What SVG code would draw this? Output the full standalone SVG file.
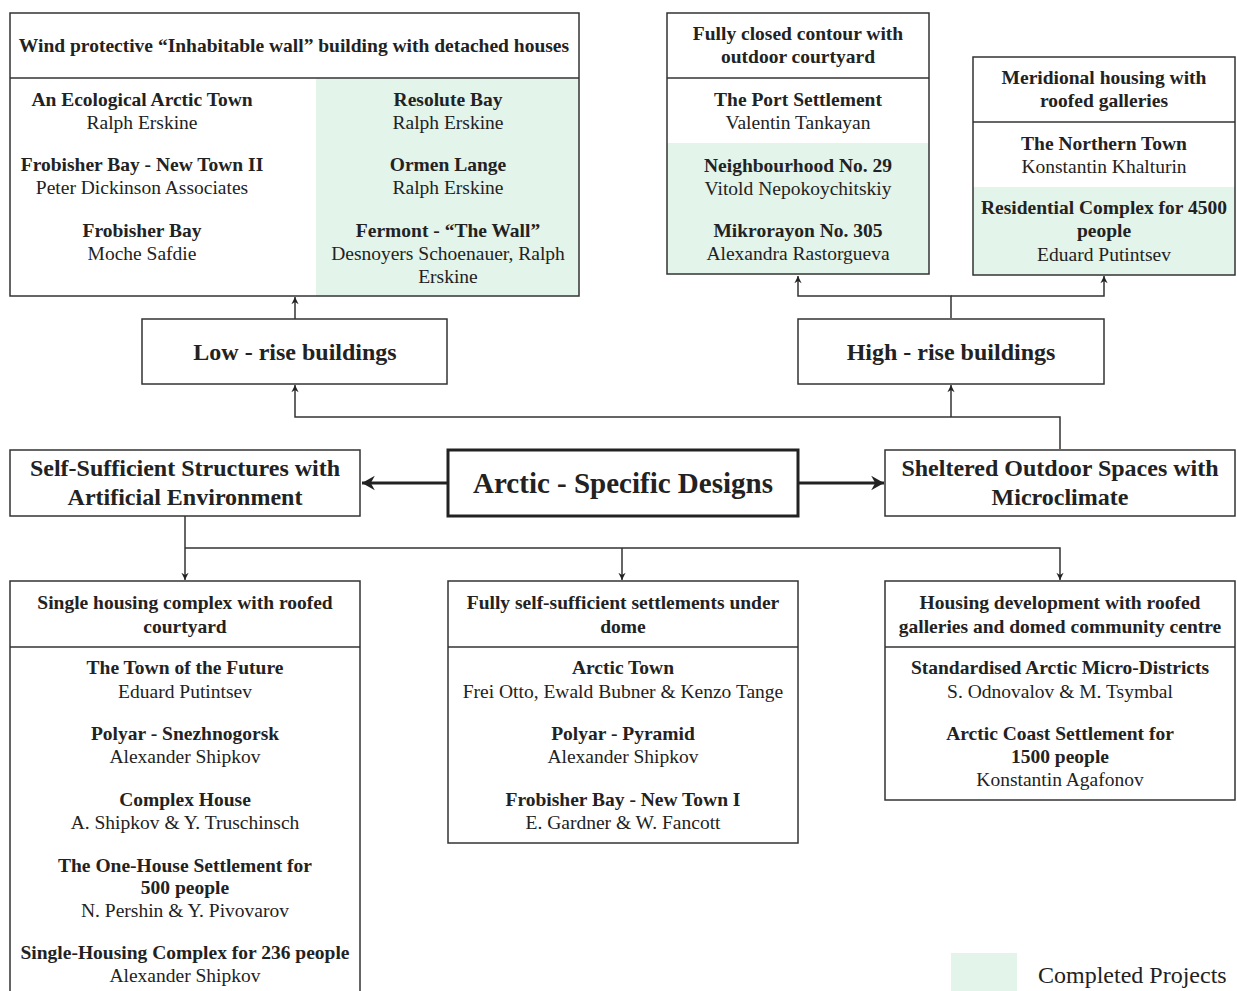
<svg xmlns="http://www.w3.org/2000/svg" width="1237" height="991" viewBox="0 0 1237 991">
<defs>
<style>
text{font-family:"Liberation Serif","Times New Roman",serif;fill:#222;text-anchor:middle}
.h{font-size:19.5px;font-weight:bold}
.b{font-size:19.5px;font-weight:bold}
.r{font-size:19.5px}
.m{font-size:24px;font-weight:bold}
.box{fill:none;stroke:#333;stroke-width:1.5}
.g{fill:#e3f4ea}
.c{fill:none;stroke:#333;stroke-width:1.5}
.ct{fill:none;stroke:#222;stroke-width:3}
</style>
<marker id="a" markerUnits="userSpaceOnUse" viewBox="0 0 10 10" refX="9" refY="5" markerWidth="9" markerHeight="9" orient="auto">
<path d="M1,1 L9,5 L1,9 L3.5,5 z" fill="#222"/>
</marker>
<marker id="A" markerUnits="userSpaceOnUse" viewBox="0 0 10 10" refX="9" refY="5" markerWidth="16" markerHeight="16" orient="auto">
<path d="M1,0.5 L9,5 L1,9.5 L3.5,5 z" fill="#222"/>
</marker>
</defs>
<rect width="1237" height="991" fill="#fff"/>

<g id="connectors">
<path class="c" d="M295,319 V297" marker-end="url(#a)"/>
<path class="c" d="M951,318 V296 H798 V276" marker-end="url(#a)"/>
<path class="c" d="M951,296 H1104 V276" marker-end="url(#a)"/>
<path class="c" d="M1060,449 V417 H295 V385" marker-end="url(#a)"/>
<path class="c" d="M951,417 V385" marker-end="url(#a)"/>
<path class="ct" d="M447,483 H362" marker-end="url(#A)"/>
<path class="ct" d="M798,483 H884" marker-end="url(#A)"/>
<path class="c" d="M185,516 V580" marker-end="url(#a)"/>
<path class="c" d="M185,548 H1060 V580" marker-end="url(#a)"/>
<path class="c" d="M622,548 V580" marker-end="url(#a)"/>
</g>

<g id="wind-wall">
<rect class="g" x="316" y="78" width="263" height="218"/>
<rect class="box" x="10" y="13" width="569" height="283"/>
<line class="box" x1="10" y1="78" x2="579" y2="78"/>
<text class="h" x="294" y="52">Wind protective “Inhabitable wall” building with detached houses</text>
<text class="b" x="142" y="106">An Ecological Arctic Town</text>
<text class="r" x="142" y="129">Ralph Erskine</text>
<text class="b" x="142" y="171">Frobisher Bay - New Town II</text>
<text class="r" x="142" y="194">Peter Dickinson Associates</text>
<text class="b" x="142" y="237">Frobisher Bay</text>
<text class="r" x="142" y="260">Moche Safdie</text>
<text class="b" x="448" y="106">Resolute Bay</text>
<text class="r" x="448" y="129">Ralph Erskine</text>
<text class="b" x="448" y="171">Ormen Lange</text>
<text class="r" x="448" y="194">Ralph Erskine</text>
<text class="b" x="448" y="237">Fermont - “The Wall”</text>
<text class="r" x="448" y="260">Desnoyers Schoenauer, Ralph</text>
<text class="r" x="448" y="283">Erskine</text>
</g>

<g id="closed-contour">
<rect class="g" x="667" y="143" width="262" height="131"/>
<rect class="box" x="667" y="13" width="262" height="261"/>
<line class="box" x1="667" y1="78" x2="929" y2="78"/>
<text class="h" x="798" y="40">Fully closed contour with</text>
<text class="h" x="798" y="63">outdoor courtyard</text>
<text class="b" x="798" y="106">The Port Settlement</text>
<text class="r" x="798" y="129">Valentin Tankayan</text>
<text class="b" x="798" y="172">Neighbourhood No. 29</text>
<text class="r" x="798" y="195">Vitold Nepokoychitskiy</text>
<text class="b" x="798" y="237">Mikrorayon No. 305</text>
<text class="r" x="798" y="260">Alexandra Rastorgueva</text>
</g>

<g id="meridional">
<rect class="g" x="973" y="187" width="262" height="88"/>
<rect class="box" x="973" y="57" width="262" height="218"/>
<line class="box" x1="973" y1="122" x2="1235" y2="122"/>
<text class="h" x="1104" y="84">Meridional housing with</text>
<text class="h" x="1104" y="107">roofed galleries</text>
<text class="b" x="1104" y="150">The Northern Town</text>
<text class="r" x="1104" y="173">Konstantin Khalturin</text>
<text class="b" x="1104" y="214">Residential Complex for 4500</text>
<text class="b" x="1104" y="237">people</text>
<text class="r" x="1104" y="261">Eduard Putintsev</text>
</g>

<g id="low-rise">
<rect class="box" x="142" y="319" width="305" height="65"/>
<text class="m" x="295" y="360">Low - rise buildings</text>
</g>

<g id="high-rise">
<rect class="box" x="798" y="319" width="306" height="65"/>
<text class="m" x="951" y="360">High - rise buildings</text>
</g>

<g id="arctic">
<rect fill="none" stroke="#222" stroke-width="3" x="448" y="450" width="350" height="66"/>
<text x="623" y="493" style="font-size:29px;font-weight:bold">Arctic - Specific Designs</text>
</g>

<g id="self-sufficient">
<rect class="box" x="10" y="450" width="350" height="66"/>
<text class="m" x="185" y="476">Self-Sufficient Structures with</text>
<text class="m" x="185" y="505">Artificial Environment</text>
</g>

<g id="sheltered">
<rect class="box" x="885" y="450" width="350" height="66"/>
<text class="m" x="1060" y="476">Sheltered Outdoor Spaces with</text>
<text class="m" x="1060" y="505">Microclimate</text>
</g>

<g id="single-housing">
<rect class="box" x="10" y="581" width="350" height="420"/>
<line class="box" x1="10" y1="647" x2="360" y2="647"/>
<text class="h" x="185" y="609">Single housing complex with roofed</text>
<text class="h" x="185" y="633">courtyard</text>
<text class="b" x="185" y="674">The Town of the Future</text>
<text class="r" x="185" y="698">Eduard Putintsev</text>
<text class="b" x="185" y="740">Polyar - Snezhnogorsk</text>
<text class="r" x="185" y="763">Alexander Shipkov</text>
<text class="b" x="185" y="806">Complex House</text>
<text class="r" x="185" y="829">A. Shipkov &amp; Y. Truschinsch</text>
<text class="b" x="185" y="872">The One-House Settlement for</text>
<text class="b" x="185" y="894">500 people</text>
<text class="r" x="185" y="917">N. Pershin &amp; Y. Pivovarov</text>
<text class="b" x="185" y="959">Single-Housing Complex for 236 people</text>
<text class="r" x="185" y="982">Alexander Shipkov</text>
</g>

<g id="dome">
<rect class="box" x="448" y="581" width="350" height="262"/>
<line class="box" x1="448" y1="647" x2="798" y2="647"/>
<text class="h" x="623" y="609">Fully self-sufficient settlements under</text>
<text class="h" x="623" y="633">dome</text>
<text class="b" x="623" y="674">Arctic Town</text>
<text class="r" x="623" y="698">Frei Otto, Ewald Bubner &amp; Kenzo Tange</text>
<text class="b" x="623" y="740">Polyar - Pyramid</text>
<text class="r" x="623" y="763">Alexander Shipkov</text>
<text class="b" x="623" y="806">Frobisher Bay - New Town I</text>
<text class="r" x="623" y="829">E. Gardner &amp; W. Fancott</text>
</g>

<g id="galleries-dome">
<rect class="box" x="885" y="581" width="350" height="219"/>
<line class="box" x1="885" y1="647" x2="1235" y2="647"/>
<text class="h" x="1060" y="609">Housing development with roofed</text>
<text class="h" x="1060" y="633">galleries and domed community centre</text>
<text class="b" x="1060" y="674">Standardised Arctic Micro-Districts</text>
<text class="r" x="1060" y="698">S. Odnovalov &amp; M. Tsymbal</text>
<text class="b" x="1060" y="740">Arctic Coast Settlement for</text>
<text class="b" x="1060" y="763">1500 people</text>
<text class="r" x="1060" y="786">Konstantin Agafonov</text>
</g>

<g id="legend">
<rect class="g" x="951" y="953" width="66" height="38"/>
<text x="1038" y="983" style="font-size:24px;text-anchor:start">Completed Projects</text>
</g>
</svg>
